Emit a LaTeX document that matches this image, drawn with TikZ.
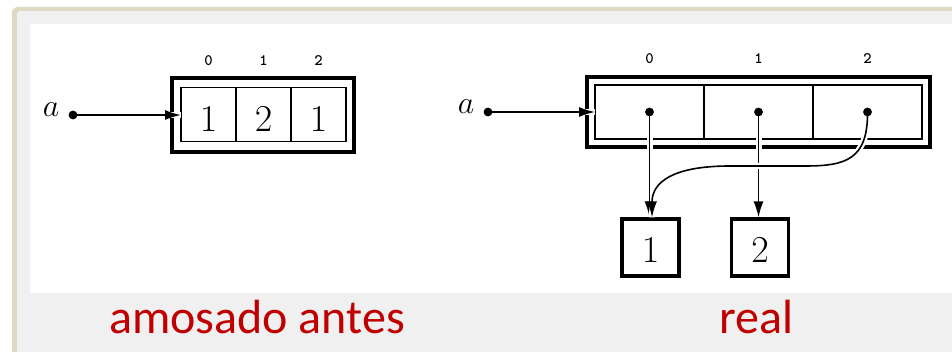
\RequirePackage{fix-cm}
\documentclass[tikz,border=0pt]{standalone}
\usepackage{fontspec}
\newfontfamily\labelfont{Carlito}
\usetikzlibrary{arrows.meta}
\definecolor{frameedge}{HTML}{DDD9C3}
\definecolor{panelgrey}{HTML}{F0F0F0}
\definecolor{captionred}{HTML}{C00000}
\tikzset{
  cellbox/.style={draw, line width=1.6pt, minimum height=54pt, inner sep=0pt, outer sep=0pt},
  outerbox/.style={draw, line width=4.2pt, inner sep=0pt},
  valbox/.style={draw, line width=3.2pt, minimum width=57pt, minimum height=57pt, inner sep=0pt},
  digit/.style={font=\fontsize{38}{38}\selectfont, inner sep=0pt, anchor=base},
  varname/.style={font=\fontsize{32}{32}\selectfont, inner sep=0pt, anchor=base},
  idx/.style={font=\fontsize{16}{16}\selectfont\ttfamily\bfseries, inner sep=0pt, anchor=base},
  caption/.style={font=\fontsize{48}{48}\selectfont\labelfont, text=captionred, inner sep=0pt, anchor=base},
  ptr/.style={line width=1.6pt, -{Latex[length=16pt,width=10pt]},
    preaction={draw=white, line width=6pt, -}},
  blob/.style={fill=black},
}
\begin{document}
\begin{tikzpicture}[x=1pt, y=-1pt]
  \useasboundingbox (0,0) rectangle (952,352);
  % slide frame and panels
  \fill[white] (0,0) rectangle (952,352);
  \begin{scope}
    \clip (0,0) rectangle (952,352);
    \fill[frameedge, rounded corners=6pt] (12,7) rectangle (980,380);
    \fill[panelgrey, rounded corners=3pt] (17,11) rectangle (980,380);
  \end{scope}
  \fill[white] (30,24) rectangle (952,293);

  % ---- left: values stored in the array ----
  \node[outerbox, minimum width=182pt, minimum height=74pt] (LA) at (263,115) {};
  \node[cellbox, minimum width=55pt] (L0) at (208.5,114.5) {};
  \node[cellbox, minimum width=55pt] (L1) at (263.5,114.5) {};
  \node[cellbox, minimum width=55pt] (L2) at (318.5,114.5) {};
  \node[digit] (Lv0) at (208.5,132) {$1$};
  \node[digit] (Lv1) at (263.5,132) {$2$};
  \node[digit] (Lv2) at (318.5,132) {$1$};
  \node[idx] (Li0) at (208.5,66) {0};
  \node[idx] (Li1) at (263.5,66) {1};
  \node[idx] (Li2) at (318.5,66) {2};
  \node[varname] (La) at (51,117) {$a$};
  \coordinate (Ld) at (73,115);
  \draw[ptr] (Ld) -- (L0.west |- Ld);
  \fill[blob] (Ld) circle (4.4pt);

  % ---- right: array of references ----
  \node[outerbox, minimum width=343pt, minimum height=70pt] (RA) at (758.5,112) {};
  \node[cellbox, minimum width=109pt] (R0) at (649.5,112) {};
  \node[cellbox, minimum width=109pt] (R1) at (758.5,112) {};
  \node[cellbox, minimum width=109pt] (R2) at (867.5,112) {};
  \node[idx] (Ri0) at (649.5,64) {0};
  \node[idx] (Ri1) at (758.5,64) {1};
  \node[idx] (Ri2) at (867.5,64) {2};
  \node[varname] (Ra) at (466,114) {$a$};
  \coordinate (Rd) at (488,112);
  \draw[ptr] (Rd) -- (R0.west |- Rd);
  \fill[blob] (Rd) circle (4.4pt);

  \node[valbox] (B1) at (650.5,247.5) {};
  \node[valbox] (B2) at (760,247.5) {};
  \node[digit] (Bv1) at (650.5,263) {$1$};
  \node[digit] (Bv2) at (760,263) {$2$};

  \draw[ptr] (R0.center) -- (R0.center |- B1.north);
  \draw[ptr] (R1.center) -- (R1.center |- B2.north);
  \coordinate (bendA) at (805,166);
  \coordinate (bendB) at (730,166);
  \draw[ptr] (R2.center) .. controls (868,160) and (845,166) .. (bendA) -- (bendB)
    .. controls (660,166) and (652,190) .. ([xshift=1.5pt]B1.north);
  \fill[blob] (R0.center) circle (4.4pt);
  \fill[blob] (R1.center) circle (4.4pt);
  \fill[blob] (R2.center) circle (4.4pt);

  % captions
  \node[caption] (capL) at (257,333) {amosado antes};
  \node[caption] (capR) at (756,333) {real};
\end{tikzpicture}
\end{document}
